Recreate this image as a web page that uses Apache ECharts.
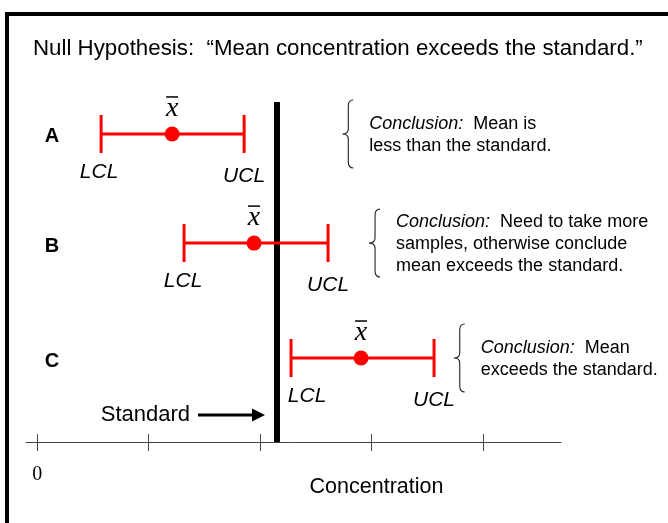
<!DOCTYPE html>
<html>
<head>
<meta charset="utf-8">
<style>
  html, body { margin: 0; padding: 0; background: #fff; }
  #chart { width: 668px; height: 523px; }
</style>
<script src="https://cdn.jsdelivr.net/npm/echarts@6/dist/echarts.min.js"></script>
</head>
<body>
<div id="chart"></div>
<script>
// rows of the picture, top to bottom
const rowNames = ['A', 'B', 'C']
const rowY = [9.06, 5.85, 2.47]          // vertical slot of each row
const lcl = [0.574, 1.318, 2.278]        // lower confidence limit
const mean = [1.211, 1.946, 2.906]       // sample mean (x-bar)
const ucl = [1.857, 2.61, 3.561]         // upper confidence limit
const standard = 2.152                    // regulatory standard
const tickValues = [0, 1, 2, 3, 4]
const tickLabels = ['0']
const notes = [
  ['{i|Conclusion:}  Mean is', 'less than the standard.'],
  ['{i|Conclusion:}  Need to take more', 'samples, otherwise conclude', 'mean exceeds the standard.'],
  ['{i|Conclusion:}  Mean', 'exceeds the standard.']
]
const noteX = [2.98, 3.22, 3.98]         // where each conclusion text starts

// layout bits (pixels)
const lclShift = [-2, -1, 16]
const RED = '#ff0000'
const SANS = '"Liberation Sans", Arial, sans-serif'
const SERIF = '"Liberation Serif", "Times New Roman", serif'

const chart = echarts.init(document.getElementById('chart'))

function renderInterval(params, api) {
  const i = params.dataIndex
  const y = api.value(3)
  const pL = api.coord([api.value(0), y])
  const pM = api.coord([api.value(1), y])
  const pU = api.coord([api.value(2), y])
  const cy = pM[1]
  const line = (x1, y1, x2, y2, w, c) => ({
    type: 'line', shape: { x1, y1, x2, y2 }, style: { stroke: c, lineWidth: w }
  })
  const text = (t, x, yy, font, align) => ({
    type: 'text', style: { text: t, x, y: yy, font, fill: '#000', align: align || 'center', verticalAlign: 'middle' }
  })
  const kids = [
    line(pL[0], cy, pU[0], cy, 3, RED),
    line(pL[0], cy - 19, pL[0], cy + 19, 3, RED),
    line(pU[0], cy - 19, pU[0], cy + 19, 3, RED),
    { type: 'circle', shape: { cx: pM[0], cy, r: 7.5 }, style: { fill: RED } },
    text('x', pM[0], cy - 25, 'italic 28px ' + SERIF),
    line(pM[0] - 6, cy - 37, pM[0] + 6, cy - 37, 1.5, '#000'),
    text('LCL', pL[0] + lclShift[i], cy + 38, 'italic 21px ' + SANS),
    text('UCL', pU[0], cy + 42, 'italic 21px ' + SANS),
    text(rowNames[i], 52, cy + 3, 'bold 20px ' + SANS)
  ]
  // conclusion with brace
  const nx = api.coord([noteX[i], y])[0]
  const lines = notes[i]
  const lh = 22
  const h = 34
  const bx = nx - 27
  const path = 'M' + (bx + 11) + ' ' + (cy - h) +
    ' Q' + (bx + 6) + ' ' + (cy - h) + ' ' + (bx + 6) + ' ' + (cy - h + 6) +
    ' L' + (bx + 6) + ' ' + (cy - 5) +
    ' Q' + (bx + 6) + ' ' + cy + ' ' + bx + ' ' + cy +
    ' Q' + (bx + 6) + ' ' + cy + ' ' + (bx + 6) + ' ' + (cy + 5) +
    ' L' + (bx + 6) + ' ' + (cy + h - 6) +
    ' Q' + (bx + 6) + ' ' + (cy + h) + ' ' + (bx + 11) + ' ' + (cy + h)
  kids.push({ type: 'path', shape: { pathData: path }, style: { stroke: '#222', lineWidth: 1.1, fill: null } })
  kids.push({
    type: 'text',
    style: {
      text: lines.join('\n'), x: nx, y: cy + 1, align: 'left', verticalAlign: 'middle',
      fontSize: 18, fontFamily: SANS, fill: '#000', lineHeight: lh,
      rich: { i: { fontStyle: 'italic', fontSize: 18, fontFamily: SANS, lineHeight: lh } }
    }
  })
  return { type: 'group', children: kids }
}

function renderStandard(params, api) {
  const top = api.coord([api.value(0), api.value(1)])
  const bot = api.coord([api.value(0), api.value(2)])
  const ay = 415
  return {
    type: 'group',
    children: [
      { type: 'line', shape: { x1: top[0], y1: top[1], x2: bot[0], y2: bot[1] }, style: { stroke: '#000', lineWidth: 6 } },
      { type: 'line', shape: { x1: top[0] - 79, y1: ay, x2: top[0] - 22, y2: ay }, style: { stroke: '#000', lineWidth: 3 } },
      { type: 'polygon', shape: { points: [[top[0] - 12, ay], [top[0] - 25, ay - 6.5], [top[0] - 25, ay + 6.5]] }, style: { fill: '#000' } },
      { type: 'text', style: { text: 'Standard', x: top[0] - 87, y: ay, align: 'right', verticalAlign: 'middle', font: '22px ' + SANS, fill: '#000' } }
    ]
  }
}

const axisBase = {
  type: 'value', min: -0.1, max: 4.7,
  splitLine: { show: false }
}

chart.setOption({
  animation: false,
  backgroundColor: '#fff',
  title: {
    text: 'Null Hypothesis:  \u201cMean concentration exceeds the standard.\u201d',
    left: 33, top: 38, padding: 0,
    textStyle: { fontSize: 22.3, fontWeight: 'normal', color: '#000', fontFamily: SANS }
  },
  grid: { left: 26, right: 107, top: 102, bottom: 81 },
  xAxis: [
    Object.assign({}, axisBase, {
      position: 'bottom',
      axisLine: { show: true, lineStyle: { color: '#444', width: 1 } },
      axisTick: { show: true, inside: false, length: 9, customValues: tickValues, lineStyle: { color: '#444' } },
      axisLabel: {
        show: true, customValues: [0], margin: 23,
        formatter: v => tickLabels[v] || '',
        fontSize: 20, fontFamily: SERIF, color: '#000'
      },
      name: 'Concentration', nameLocation: 'middle', nameGap: 34, nameMoveOverlap: false,
      nameTextStyle: { fontSize: 21.5, fontFamily: SANS, color: '#000', padding: [0, 0, 0, 166] }
    }),
    Object.assign({}, axisBase, {
      position: 'bottom',
      axisLine: { show: false },
      axisTick: { show: true, inside: true, length: 8, customValues: tickValues, lineStyle: { color: '#444' } },
      axisLabel: { show: false }
    })
  ],
  yAxis: { type: 'value', min: 0, max: 10, show: false },
  graphic: [
    { type: 'rect', shape: { x: 7, y: 14, width: 700, height: 600 }, style: { fill: null, stroke: '#000', lineWidth: 4 }, z: 100 }
  ],
  series: [
    {
      type: 'custom', clip: false,
      renderItem: renderStandard,
      encode: { x: 0, y: [1, 2] },
      data: [[standard, 10, 0]]
    },
    {
      type: 'custom', clip: false,
      renderItem: renderInterval,
      encode: { x: [0, 1, 2], y: 3 },
      data: rowNames.map((n, i) => [lcl[i], mean[i], ucl[i], rowY[i]]),
      z: 3
    }
  ]
})
</script>
</body>
</html>
